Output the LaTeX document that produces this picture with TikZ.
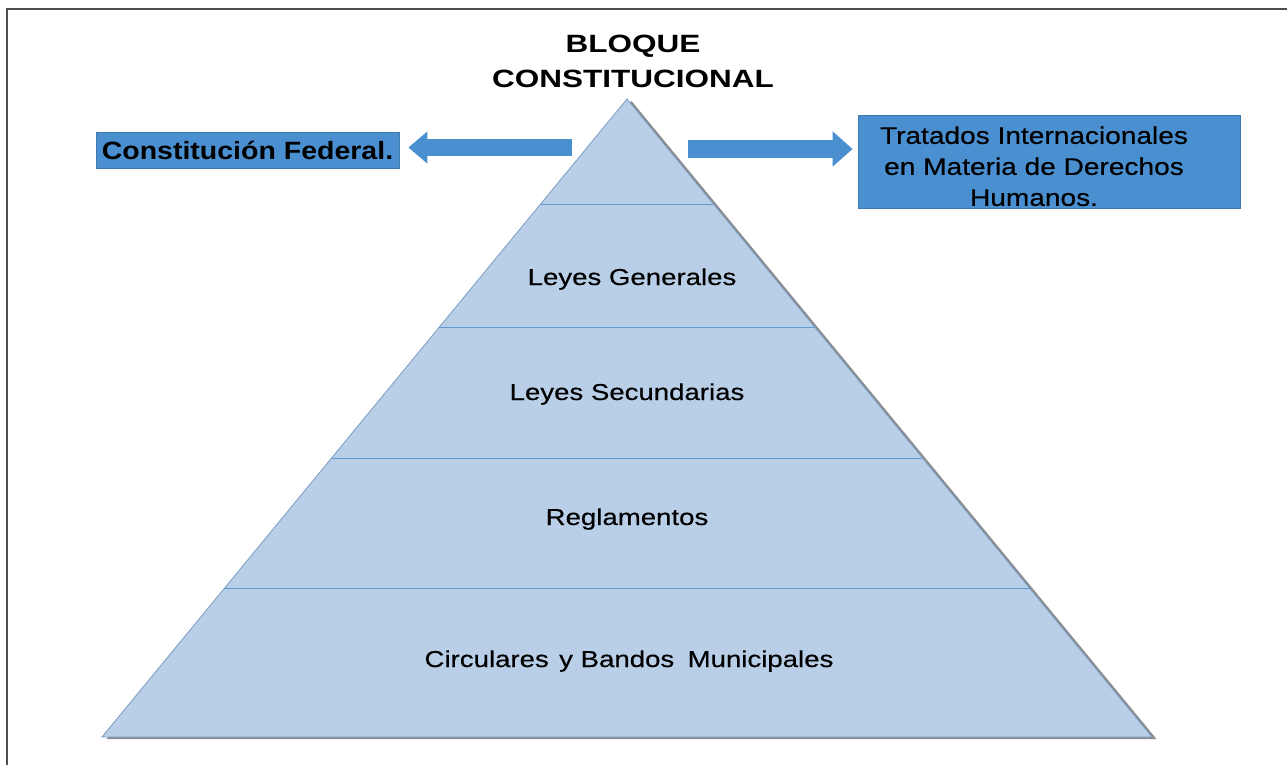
\documentclass[tikz,border=0pt]{standalone}
\usepackage{fontspec}
\setmainfont{Liberation Sans}
\newfontfamily\titlefont[FakeStretch=1.26]{Liberation Sans Bold}
\newfontfamily\cffont[FakeStretch=1.14]{Liberation Sans Bold}
\newfontfamily\lblfont[FakeStretch=1.2,FakeBold=0.4]{Liberation Sans}
\newfontfamily\boxfont[FakeStretch=1.17,FakeBold=0.4]{Liberation Sans}
\usetikzlibrary{arrows.meta,calc,shadows}
\definecolor{pyrfill}{HTML}{B9CFE7}
\definecolor{pyrline}{HTML}{5F9BD0}
\definecolor{pyredge}{HTML}{7A9CC4}
\definecolor{arrowblue}{HTML}{4A8FD0}
\definecolor{framegray}{HTML}{4D4D4D}
\begin{document}
\begin{tikzpicture}[x=1pt,y=-1pt,
  lbl/.style={font=\lblfont\fontsize{23}{27}\selectfont, anchor=base, inner sep=0},
  ttl/.style={font=\titlefont\fontsize{25}{35}\selectfont, align=center, inner sep=0},
  bluebox/.style={fill=arrowblue, draw=arrowblue!85!black, line width=0.8pt},
  blockarrow/.style={draw=arrowblue, line cap=butt},
]
\useasboundingbox (0,0) rectangle (1287,765);
\fill[white] (0,0) rectangle (1287,765);
% frame
\draw[framegray, line width=2pt] (7,765) -- (7,9) -- (1287,9);

% title
\node[ttl] (title) at (633,61.5) {BLOQUE\\CONSTITUCIONAL};

% pyramid
\coordinate (apex) at (627,99);
\coordinate (bl) at (102,737);
\coordinate (br) at (1152,737);
\fill[pyrfill, drop shadow={shadow xshift=4.5pt, shadow yshift=-2pt, opacity=0.6, fill=black!75}] (apex) -- (br) -- (bl) -- cycle;
\draw[pyredge, line width=0.8pt, line join=miter] (apex) -- (br) -- (bl) -- cycle;
\foreach \t in {0.1646,0.3589,0.5627,0.7680}{
  \draw[pyrline, line width=1pt] ($(apex)!\t!(bl)$) -- ($(apex)!\t!(br)$);
}

% layer labels
\node[lbl] (lg) at (632,285) {Leyes Generales};
\node[lbl] (ls) at (627,400) {Leyes Secundarias};
\node[lbl] (rg) at (627,525) {Reglamentos};
\node[lbl] (cb) at (629,667) {Circulares\hspace{0.12em} y Bandos\hspace{0.25em} Municipales};

% side boxes
\node[bluebox, minimum width=303pt, minimum height=36pt, inner sep=0,
      font=\cffont\fontsize{25}{30}\selectfont] (cf) at (247.5,150) {Constitución Federal.};
\node[bluebox, minimum width=382pt, minimum height=93pt, inner sep=0] (tbox) at (1049,161.5) {};
\node[inner sep=0, align=center, font=\boxfont\fontsize{24}{31}\selectfont] (ttext) at (1034,166.3)
  {Tratados Internacionales\\en Materia de Derechos\\Humanos.};

% block arrows
\coordinate (la0) at (572,147.5);
\coordinate (ra0) at (688,149);
\draw[blockarrow, line width=17pt, -{Triangle[length=19pt,width=31pt]}, shorten >=9pt]
  (la0) -- (la0 -| cf.east);
\draw[blockarrow, line width=18pt, -{Triangle[length=20pt,width=34pt]}, shorten >=5pt]
  (ra0) -- (ra0 -| tbox.west);
\end{tikzpicture}
\end{document}
